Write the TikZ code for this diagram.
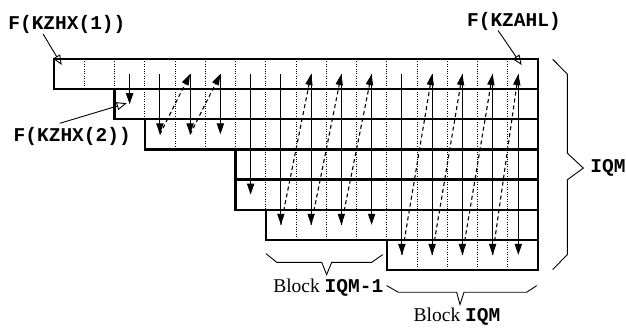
\documentclass[tikz,border=0pt]{standalone}
\usepackage{fontspec}
\setmainfont{Liberation Serif}
\setmonofont{Liberation Mono}
\usetikzlibrary{arrows.meta}

\newcommand{\fname}[1]{\textbf{\texttt{#1}}}

\tikzset{
    rowbox/.style={line width=1.1pt},
    colsep/.style={line width=0.4pt, dash pattern=on 0.5pt off 0.7pt},
    down/.style={line width=0.6pt, -{Triangle[length=5.5pt,width=3.6pt]}},
    back/.style={line width=0.55pt, dash pattern=on 2pt off 1.5pt, -{Triangle[length=5.5pt,width=3.6pt]}},
    pointer/.style={line width=0.45pt, -{Triangle[open,length=5pt,width=4pt]}},
    brace/.style={line width=0.45pt},
    lab/.style={font=\fontsize{9.75}{11}\selectfont, inner sep=0pt, anchor=base west}
}

\begin{document}
\begin{tikzpicture}[x=15.125pt, y=15.07pt]
    \useasboundingbox (-1.785,1.958) rectangle (18.909,-8.892);

    % rows of the profile (row / first column)
    \foreach \r/\l in {1/0,2/2,3/3,4/6,5/6,6/7,7/11} {
        \pgfmathtruncatemacro\a{\l+1}
        \foreach \k in {\a,...,15}
            \draw[colsep] (\k,1-\r) -- (\k,-\r);
        \foreach \k in {\l,...,15} {
            \pgfmathsetmacro\cx{\k==15 ? 15.35 : \k+0.5}
            \coordinate (c\r-\k) at (\cx,0.5-\r);
        }
    }
    \foreach \r/\l in {1/0,2/2,3/3,4/6,5/6,6/7,7/11}
        \draw[rowbox] (\l,1-\r) rectangle (16,-\r);

    % down each column
    \foreach \k/\b in {2/2,3/3,4/3,5/3,6/5,7/6,8/6,9/6,10/6,11/7,12/7,13/7,14/7,15/7}
        \draw[down] (c1-\k) -- (c\b-\k);

    % back to the top of the next column
    \foreach \k/\b/\n in {3/3/4,4/3/5,7/6/8,8/6/9,9/6/10,11/7/12,12/7/13,13/7/14,14/7/15}
        \draw[back] (c\b-\k) -- (c1-\n);

    \node[lab] (kzhx1) at (-1.521,0.977) {\fname{F(KZHX(1))}};
    \node[lab] (kzhx2) at (-1.345,-2.748) {\fname{F(KZHX(2))}};
    \node[lab] (kzahl) at (13.643,1.093) {\fname{F(KZAHL)}};
    \node[lab] (iqm) at (17.719,-3.775) {\fname{IQM}};
    \node[lab] (blockm1) at (7.236,-7.748) {Block \fname{IQM-1}};
    \node[lab] (block) at (11.878,-8.725) {Block \fname{IQM}};

    \coordinate (first1) at (0.255,-0.199);
    \coordinate (first2) at (2.403,-1.467);
    \coordinate (last) at (15.461,-0.199);

    \draw[pointer] ([xshift=-11.9pt]kzhx1.south) -- (first1);
    \draw[pointer] ([xshift=-6.25pt,yshift=2pt]kzhx2.north) -- (first2);
    \draw[pointer] ([xshift=-7.9pt]kzahl.south) -- (last);

    % braces
    \draw[brace] (16.486,-0.01) -- (16.969,-0.497) -- (16.969,-3.123) -- (17.498,-3.619)
        -- (16.969,-4.007) -- (16.969,-6.49) -- (16.486,-6.987);
    \draw[brace] (7.008,-6.457) -- (7.362,-6.745) -- (8.85,-6.745) -- (9.013,-7.152)
        -- (9.18,-6.745) -- (10.502,-6.745) -- (10.866,-6.49);
    \draw[brace] (10.998,-7.517) -- (11.382,-7.738) -- (13.312,-7.738) -- (13.421,-8.146)
        -- (13.554,-7.738) -- (15.626,-7.738) -- (15.957,-7.517);
\end{tikzpicture}
\end{document}
